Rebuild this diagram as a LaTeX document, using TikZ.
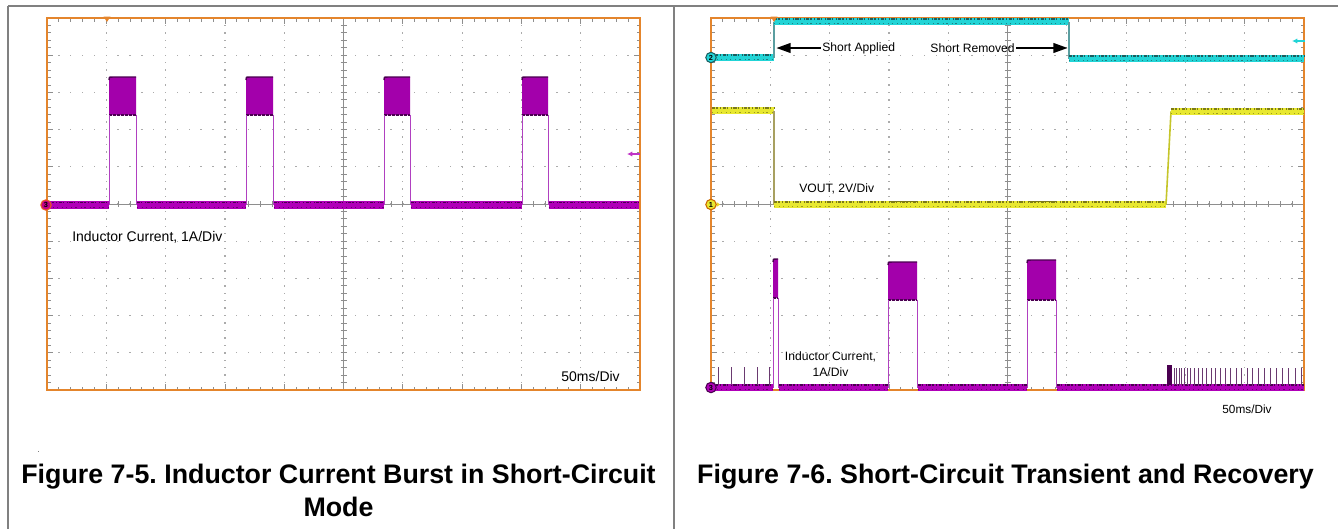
\documentclass[tikz,border=0pt]{standalone}
\usepackage{fontspec}
\setmainfont{Liberation Sans}
\frenchspacing
\usetikzlibrary{arrows.meta}
\definecolor{framegray}{HTML}{808080}
\definecolor{scopeorange}{HTML}{E4852C}
\definecolor{griddot}{HTML}{ABABAB}
\definecolor{gridline}{HTML}{8E8E8E}
\definecolor{chmag}{HTML}{B000B8}
\definecolor{chmagfill}{HTML}{A300AB}
\definecolor{chmagdark}{HTML}{4A0050}
\definecolor{chmagthin}{HTML}{B040C0}
\definecolor{chcyan}{HTML}{22D4D6}
\definecolor{chcyandark}{HTML}{1B5E60}
\definecolor{cyanedge}{HTML}{5A9EA0}
\definecolor{chyellow}{HTML}{E8E830}
\definecolor{chyellowdark}{HTML}{7C7A18}
\definecolor{yellowedge}{HTML}{A8A060}
\definecolor{spikecol}{HTML}{6A3A70}

\tikzset{
  lblA/.style={font=\fontsize{10.5}{12}\selectfont, inner sep=0pt},
  lblB/.style={font=\fontsize{9.1}{11}\selectfont, inner sep=0pt},
  capt/.style={font=\fontsize{20.1}{23}\selectfont\bfseries, inner sep=0pt},
  chmark/.style={circle, inner sep=0pt, minimum size=7.8pt, line width=0.8pt,
                 font=\fontsize{5.5}{5.5}\selectfont\bfseries},
  bigarrow/.style={line width=2.2pt, -{Triangle[length=11pt,width=7pt]}},
  smallarrow/.style={line width=1pt, -{Latex[length=4pt,width=4pt]}},
  trig/.style={fill=scopeorange, draw=none}
}

\newcommand{\scopegrid}[2]{%
\begin{scope}[shift={(#1,#2)}]
 \foreach \i in {1,...,9}{
   \foreach \k in {1,...,49}{
     \fill[griddot] ({\i*59.3-0.6},{\k*7.44-0.7}) rectangle ++(1.2,1.4);
     \fill[griddot] ({\k*11.86-0.7},{\i*37.2-0.6}) rectangle ++(1.4,1.2);
   }
 }
 \draw[gridline, line width=0.6pt] (0,186) -- (593,186) (296.5,0) -- (296.5,372);
 \foreach \k in {1,...,49}{
   \draw[gridline, line width=0.6pt] ({\k*11.86},183) -- ({\k*11.86},189);
   \draw[gridline, line width=0.6pt] (293.5,{\k*7.44}) -- (299.5,{\k*7.44});
   \draw[gridline, line width=0.6pt] ({\k*11.86},0) -- ({\k*11.86},3.5);
   \draw[gridline, line width=0.6pt] ({\k*11.86},372) -- ({\k*11.86},368.5);
   \draw[gridline, line width=0.6pt] (0,{\k*7.44}) -- (3.5,{\k*7.44});
   \draw[gridline, line width=0.6pt] (593,{\k*7.44}) -- (589.5,{\k*7.44});
 }
 \foreach \i in {1,...,9}{
   \draw[gridline, line width=0.6pt] ({\i*59.3},0) -- ({\i*59.3},6);
   \draw[gridline, line width=0.6pt] ({\i*59.3},372) -- ({\i*59.3},366);
   \draw[gridline, line width=0.6pt] (0,{\i*37.2}) -- (6,{\i*37.2});
   \draw[gridline, line width=0.6pt] (593,{\i*37.2}) -- (587,{\i*37.2});
 }
 \draw[scopeorange, line width=1.6pt] (0,0) rectangle (593,372);
\end{scope}}

\newcommand{\sigband}[5]{% colour, dark colour, x0, x1, y
 \fill[#1] ({#3},{#5-3.6}) rectangle ({#4},{#5+3.6});
 \draw[#2, line width=1.1pt, dash pattern=on 2.4pt off 0.8pt on 1pt off 2pt on 0.6pt off 1.2pt]
   ({#3},{#5-2.6}) -- ({#4},{#5-2.6});
 \draw[#2!70!#1, line width=0.5pt, dash pattern=on 1pt off 3pt on 0.6pt off 2.2pt]
   ({#3},{#5+2.2}) -- ({#4},{#5+2.2});
}

\newcommand{\sigpulse}[5]{% x0, x1, ytop, ybot, ybase
 \fill[chmagfill] ({#1},{#4}) -- ({#1},{#3+3}) .. controls ({#1},{#3}) .. ({#1+4},{#3})
    -- ({#2},{#3}) -- ({#2},{#4}) -- cycle;
 \draw[chmagdark, line width=1.1pt] ({#1},{#3+3}) .. controls ({#1},{#3}) .. ({#1+4},{#3}) -- ({#2},{#3});
 \draw[chmagdark, line width=0.8pt, dash pattern=on 2pt off 1pt] ({#1},{#4}) -- ({#2},{#4});
 \draw[chmagthin, line width=0.7pt] ({#1},{#4}) -- ({#1},{#5}) ({#2},{#4}) -- ({#2},{#5});
}

\begin{document}
\begin{tikzpicture}[x=0.75pt,y=-0.75pt]
\useasboundingbox (0,0) rectangle (1338,529);
\fill[white] (0,0) rectangle (1338,529);

% table lines
\draw[framegray, line width=1.5pt] (8,6) -- (1338,6);
\draw[framegray, line width=1.5pt] (8,6) -- (8,529);
\draw[framegray, line width=1.5pt] (674,6) -- (674,529);
\fill[framegray] (37.5,450.5) rectangle ++(1,1);

% ---------------- left scope ----------------
\scopegrid{47}{18}
\sigband{chmag}{chmagdark}{48}{108.5}{205}
\sigband{chmag}{chmagdark}{136.5}{245.5}{205}
\sigband{chmag}{chmagdark}{273.5}{383.5}{205}
\sigband{chmag}{chmagdark}{410.5}{521.5}{205}
\sigband{chmag}{chmagdark}{548.5}{639}{205}
\sigpulse{109}{136}{77}{115}{205}
\sigpulse{246}{273}{77}{115}{205}
\sigpulse{384}{410}{77}{115}{205}
\sigpulse{522}{548}{77}{115}{205}
\fill[trig] (103.5,16.5) -- (110.5,16.5) -- (107,22) -- cycle;
\node[chmark, fill=chmag!75!red, draw=scopeorange!70!red, text=black] (m3L) at (46,205) {3};
\coordinate (ar3a) at (640,154);
\coordinate (ar3b) at (627,154);
\draw[smallarrow, chmag!80!white] (ar3a) -- (ar3b);

\node[lblA, anchor=west] (indL) at (72,237) {Inductor Current, 1A/Div};
\node[lblA, anchor=east] (tbL) at (620,376) {50ms/Div};

\node[capt] (cap1a) at (338.5,477) {Figure 7-5. Inductor Current Burst in Short-Circuit};
\node[capt] (cap1b) at (338.5,507) {Mode};

% ---------------- right scope ----------------
\scopegrid{711}{18}
% channel 2 (cyan)
\sigband{chcyan}{chcyandark}{712}{774}{57.5}
\draw[cyanedge, line width=0.8pt] (774,57.5) -- (774,21.5);
\sigband{chcyan}{chcyandark}{774}{1069}{21.5}
\draw[cyanedge, line width=0.8pt] (1069,21.5) -- (1069,58.5);
\sigband{chcyan}{chcyandark}{1069}{1304}{58.5}
% channel 1 (yellow)
\sigband{chyellow}{chyellowdark}{712}{774}{110.5}
\draw[yellowedge, line width=0.8pt] (774,110.5) -- (774,204.5);
\sigband{chyellow}{chyellowdark}{774}{1166}{204.5}
\draw[chyellowdark, line width=1pt] (890,201.5) -- (917,201.5) (1028,201.5) -- (1056,201.5);
\draw[chyellow!85!black, line width=1.2pt] (1166,204.5) -- (1171,111.5);
\sigband{chyellow}{chyellowdark}{1171}{1304}{111.5}
% channel 3 (magenta)
\sigband{chmag}{chmagdark}{712}{772.5}{387.5}
\sigband{chmag}{chmagdark}{778.5}{887.5}{387.5}
\sigband{chmag}{chmagdark}{917.5}{1026.5}{387.5}
\sigband{chmag}{chmagdark}{1056.5}{1304}{387.5}
\sigpulse{773}{778}{259}{298}{387.5}
\sigpulse{888}{917}{262}{300}{387.5}
\sigpulse{1027}{1056}{260}{300}{387.5}
\foreach \x in {718,731,744,757,769}{
  \draw[spikecol, line width=0.7pt] (\x,385) -- (\x,367);
}
\fill[chmagdark] (1167,365) rectangle (1172,385);
\foreach \x in {1174.3,1176.7,1179,1181.7,1184.3,1187,1190.3,1194,1198,1202,1206.3,1211,
  1215.7,1220.3,1225.3,1230.7,1236,1241.3,1247,1252.7,1258.3,1264.3,1270.3,1276.3,1282.3,
  1288.7,1295,1301.7}{
  \draw[spikecol, line width=0.7pt] (\x,385) -- (\x,367.5);
}
\fill[trig] (770.5,16.5) -- (777.5,16.5) -- (774,22) -- cycle;
\node[chmark, fill=chcyan, draw=chcyandark] (m2R) at (711,57.5) {2};
\fill[chyellow!80!orange] (716.5,202) -- (720,204.5) -- (716.5,207) -- cycle;
\node[chmark, fill=chyellow, draw=orange!80!black] (m1R) at (711,204.5) {1};
\node[chmark, fill=chmag, draw=chmagdark] (m3R) at (711,387.5) {3};
\coordinate (ar2a) at (1305,41);
\coordinate (ar2b) at (1292,41);
\draw[smallarrow, chcyan] (ar2a) -- (ar2b);

\node[lblB, anchor=west] (sa) at (822,48) {Short Applied};
\coordinate (saTip) at (776,48);
\draw[bigarrow] ([xshift=-1pt]sa.west) -- (saTip);
\node[lblB, anchor=east] (sr) at (1015,48) {Short Removed};
\coordinate (srTip) at (1068,48);
\draw[bigarrow] ([xshift=1pt]sr.east) -- (srTip);

\node[lblB, anchor=west] (vout) at (799,189) {VOUT, 2V/Div};
\node[lblB, align=center, font=\fontsize{9.1}{12.3}\selectfont] (indR) at (830.5,364) {Inductor Current,\\1A/Div};
\node[lblB, font=\fontsize{8.85}{10}\selectfont] (tbR) at (1247,409) {50ms/Div};

\node[capt] (cap2) at (1005.5,477) {Figure 7-6. Short-Circuit Transient and Recovery};
\end{tikzpicture}
\end{document}
